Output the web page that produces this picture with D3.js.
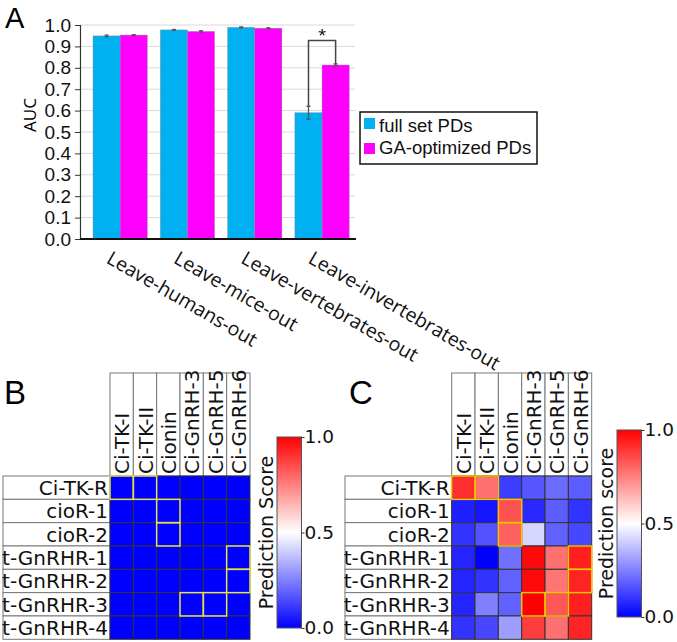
<!DOCTYPE html>
<html><head><meta charset="utf-8">
<script src="https://cdn.jsdelivr.net/npm/d3@7"></script>
<style>body{margin:0;background:#fff}svg{display:block}</style>
</head><body><svg id="c" width="677" height="642"></svg>
<script>
// ---------- DATA ----------
const groups = ["Leave-humans-out","Leave-mice-out","Leave-vertebrates-out","Leave-invertebrates-out"];
const seriesNames = ["full set PDs","GA-optimized PDs"];
const fullSet = [0.949, 0.977, 0.989, 0.590];
const gaOpt   = [0.953, 0.970, 0.985, 0.813];
const fullErr = [0.004, 0.002, 0.002, 0.030];
const gaErr   = [0.002, 0.003, 0.002, 0.005];
const yTicks  = [0,0.1,0.2,0.3,0.4,0.5,0.6,0.7,0.8,0.9,1.0];
const sigGroup = 3, sigLevel = 0.927;

const peptides  = ["Ci-TK-I","Ci-TK-II","Cionin","Ci-GnRH-3","Ci-GnRH-5","Ci-GnRH-6"];
const receptors = ["Ci-TK-R","cioR-1","cioR-2","t-GnRHR-1","t-GnRHR-2","t-GnRHR-3","t-GnRHR-4"];
const scoresB = [
  [0,0,0,0,0,0],[0,0,0,0,0,0],[0,0,0,0,0,0],[0,0,0,0,0,0],
  [0,0,0,0,0,0],[0,0,0,0,0,0],[0,0,0,0,0,0]];
const scoresC = [
  [0.91,0.78,0.12,0.17,0.21,0.18],
  [0.06,0.04,0.84,0.08,0.18,0.10],
  [0.10,0.16,0.81,0.42,0.19,0.14],
  [0.07,0.00,0.22,0.98,0.78,0.94],
  [0.07,0.10,0.19,0.98,0.77,0.93],
  [0.07,0.25,0.19,1.00,0.83,0.94],
  [0.10,0.14,0.31,0.88,0.78,0.93]];
// known pairs [receptorIndex, peptideIndex]
const knownPairs = [[0,0],[0,1],[1,2],[2,2],[3,5],[4,5],[5,3],[5,4]];
const cbTicks = [0, 0.5, 1.0];

// ---------- PANEL A ----------
const svg = d3.select("#c");
const fA = "'Open Sans', sans-serif";
const fL = "'Liberation Sans', Arial, sans-serif";
svg.append("text").attr("x",5).attr("y",28).attr("font-family",fL)
  .attr("font-size",29).text("A");

const y = d3.scaleLinear().domain([0,1]).range([239,25]);
const x0 = d3.scaleBand().domain(groups).range([86.5,355.7]).paddingInner(0.1935).paddingOuter(0.0968);
const x1 = d3.scaleBand().domain(seriesNames).range([0,x0.bandwidth()]);
const colors = ["#00b0f0","#ff00ff"];

const gA = svg.append("g");
gA.selectAll("line.grid").data(yTicks.slice(1)).join("line")
  .attr("x1",80).attr("x2",355).attr("y1",d=>y(d)).attr("y2",d=>y(d))
  .attr("stroke","#d9d9d9").attr("stroke-width",1);
const yAx = gA.append("g").attr("transform","translate(80,0)")
  .call(d3.axisLeft(y).tickValues(yTicks).tickFormat(d3.format(".1f")).tickSize(5).tickPadding(4));
yAx.select(".domain").attr("stroke","#333").attr("stroke-width",1.2);
yAx.selectAll(".tick line").attr("stroke","#333");
yAx.selectAll("text").attr("font-family",fL).attr("font-size",19).attr("fill","#111");
gA.append("text").attr("transform","translate(36,115) rotate(-90)").attr("text-anchor","middle")
  .attr("font-family",fA).attr("font-size",17).text("AUC");

const series = [fullSet, gaOpt], errs = [fullErr, gaErr];
series.forEach((vals,si)=>{
  gA.selectAll("rect.s"+si).data(vals).join("rect")
    .attr("x",(d,i)=>x0(groups[i])+x1(seriesNames[si]))
    .attr("y",d=>y(d)).attr("width",x1.bandwidth()).attr("height",d=>y(0)-y(d))
    .attr("fill",colors[si]).attr("stroke","#8a8a8a").attr("stroke-width",0.4);
  vals.forEach((v,i)=>{
    const cx = x0(groups[i])+x1(seriesNames[si])+x1.bandwidth()/2;
    const e = errs[si][i];
    gA.append("line").attr("x1",cx).attr("x2",cx).attr("y1",y(v-e)).attr("y2",y(v+e)).attr("stroke","#555").attr("stroke-width",1.3);
    [v-e,v+e].forEach(t=>gA.append("line").attr("x1",cx-2).attr("x2",cx+2).attr("y1",y(t)).attr("y2",y(t)).attr("stroke","#555").attr("stroke-width",1.3));
  });
});
gA.append("line").attr("x1",80).attr("x2",356).attr("y1",y(0)).attr("y2",y(0)).attr("stroke","#111").attr("stroke-width",2);

{
  const g = groups[sigGroup];
  const bx = x0(g)+x1(seriesNames[0])+x1.bandwidth()/2;
  const mx = x0(g)+x1(seriesNames[1])+x1.bandwidth()/2;
  const p = d3.path();
  p.moveTo(bx, y(fullSet[sigGroup]+fullErr[sigGroup]));
  p.lineTo(bx, y(sigLevel)); p.lineTo(mx, y(sigLevel));
  p.lineTo(mx, y(gaOpt[sigGroup]+gaErr[sigGroup]));
  gA.append("path").attr("d",p.toString()).attr("fill","none").attr("stroke","#444").attr("stroke-width",1.5);
  gA.append("text").attr("x",(bx+mx)/2).attr("y",y(sigLevel)-1).attr("text-anchor","middle")
    .attr("font-family",fA).attr("font-size",15).text("*");
}
gA.selectAll("text.xl").data(groups).join("text")
  .attr("transform",d=>`translate(${x0(d)+x0.bandwidth()/2-8},250) rotate(30)`)
  .attr("dy","0.72em").attr("font-family",fA).attr("font-size",19.5).attr("fill","#111").text(d=>d);

const lg = svg.append("g");
lg.append("rect").attr("x",360).attr("y",112).attr("width",177).attr("height",52)
  .attr("fill","#fff").attr("stroke","#111").attr("stroke-width",1.5);
seriesNames.forEach((s,i)=>{
  lg.append("rect").attr("x",364).attr("y",118+i*25).attr("width",11).attr("height",11).attr("fill",colors[i]);
  lg.append("text").attr("x",379).attr("y",132+i*22).attr("font-family",fL).attr("font-size",18.5).attr("fill","#111").text(s);
});

// ---------- HEATMAPS ----------
const color = d3.scaleLinear().domain([0,0.5,1]).range(["#0000ff","#ffffff","#ff0000"]);
const fH = "'DejaVu Sans', Verdana, sans-serif";

function heatmap(o){
  const g = svg.append("g");
  g.append("text").attr("x",o.letterX).attr("y",404).attr("font-family",fL)
    .attr("font-size",33).text(o.letter);
  const xs = d3.scaleBand().domain(peptides).range([o.x0, o.x0+140]);
  const ys = d3.scaleBand().domain(receptors).range([476, 639.3]);
  g.selectAll("rect.hb").data(peptides).join("rect")
    .attr("x",d=>xs(d)).attr("y",373).attr("width",xs.bandwidth()).attr("height",476-373)
    .attr("fill","#fff").attr("stroke","#777").attr("stroke-width",1);
  g.selectAll("text.ht").data(peptides).join("text")
    .attr("transform",d=>`translate(${xs(d)+xs.bandwidth()/2+7.5},474) rotate(-90)`)
    .attr("font-family",fH).attr("font-size",20).attr("fill","#111").text(d=>d);
  g.selectAll("rect.rb").data(receptors).join("rect")
    .attr("x",o.rowX).attr("y",d=>ys(d)).attr("width",o.x0-o.rowX).attr("height",ys.bandwidth())
    .attr("fill","#fff").attr("stroke","#777").attr("stroke-width",1);
  g.selectAll("text.rt").data(receptors).join("text")
    .attr("x",o.x0-2).attr("y",d=>ys(d)+ys.bandwidth()/2+7.5).attr("text-anchor","end")
    .attr("font-family",fH).attr("font-size",20).attr("fill","#111").text(d=>d);
  const cells = [];
  o.data.forEach((row,ri)=>row.forEach((v,ci)=>cells.push({r:receptors[ri],c:peptides[ci],v})));
  g.selectAll("rect.cell").data(cells).join("rect")
    .attr("x",d=>xs(d.c)).attr("y",d=>ys(d.r)).attr("width",xs.bandwidth()).attr("height",ys.bandwidth())
    .attr("fill",d=>color(d.v)).attr("stroke","#333").attr("stroke-width",1);
  g.selectAll("rect.kp").data(knownPairs).join("rect")
    .attr("x",d=>xs(peptides[d[1]])).attr("y",d=>ys(receptors[d[0]]))
    .attr("width",xs.bandwidth()).attr("height",ys.bandwidth())
    .attr("fill","none").attr("stroke",o.hl).attr("stroke-width",1.5);
  const gid = "grad"+o.letter;
  const grad = svg.append("defs").append("linearGradient").attr("id",gid)
    .attr("x1",0).attr("y1",1).attr("x2",0).attr("y2",0);
  [0,0.25,0.5,0.75,1].forEach(t=>grad.append("stop").attr("offset",t).attr("stop-color",color(t)));
  const cy = d3.scaleLinear().domain([0,1]).range([o.cbBot,o.cbTop]);
  g.append("rect").attr("x",o.cbX).attr("y",o.cbTop).attr("width",24.5).attr("height",o.cbBot-o.cbTop)
    .attr("fill",`url(#${gid})`).attr("stroke","#555").attr("stroke-width",1);
  const ax = g.append("g").attr("transform",`translate(${o.cbX+24.5},0)`)
    .call(d3.axisRight(cy).tickValues(cbTicks).tickFormat(d3.format(".1f")).tickSize(3).tickPadding(0));
  ax.select(".domain").remove();
  ax.selectAll(".tick line").attr("stroke","#333");
  ax.selectAll("text").attr("font-family",fH).attr("font-size",18.5).attr("fill","#111");
  g.append("text").attr("transform",`translate(${o.cbX-4},${(o.cbTop+o.cbBot)/2}) rotate(-90)`)
    .attr("text-anchor","middle").attr("font-family",fH).attr("font-size",19).attr("fill","#111").text(o.cbLabel);
}
heatmap({letter:"B",letterX:4,x0:110,rowX:3,data:scoresB,hl:"#e6e24a",cbX:277,cbTop:437,cbBot:628,cbLabel:"Prediction Score"});
heatmap({letter:"C",letterX:349,x0:451.7,rowX:345,data:scoresC,hl:"#f5c400",cbX:617,cbTop:430,cbBot:617,cbLabel:"Prediction score"});
</script></body></html>
